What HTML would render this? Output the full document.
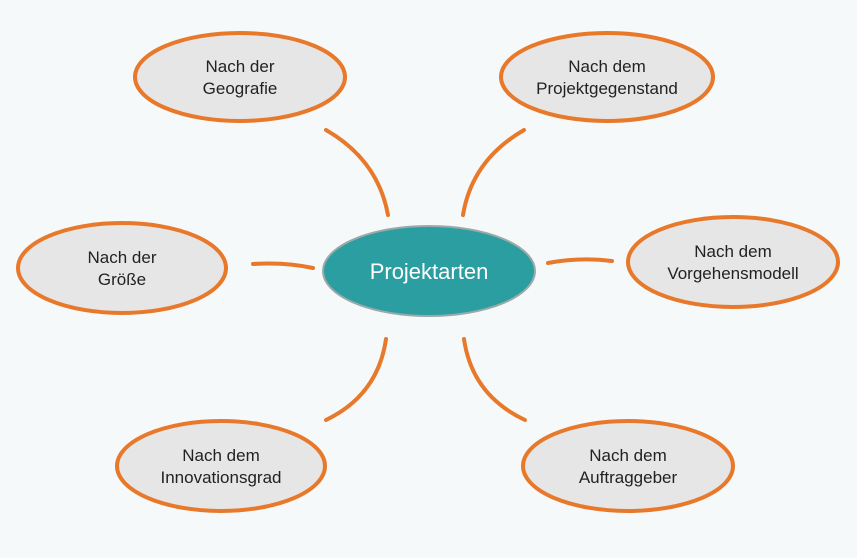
<!DOCTYPE html>
<html><head><meta charset="utf-8"><style>
html,body{margin:0;padding:0;background:#f5f9fa;}
svg{display:block}
text{font-family:"Liberation Sans",sans-serif;font-size:17px;fill:#222;text-anchor:middle}
</style></head><body>
<svg width="857" height="558" viewBox="0 0 857 558">
<rect width="857" height="558" fill="#f5f9fa"/>
<g fill="none" stroke="#e8782a" stroke-width="4" stroke-linecap="round">
<path d="M326 130 Q378 160 388 215"/>
<path d="M524 130 Q472 160 463 215"/>
<path d="M253 264 Q285 262 313 268"/>
<path d="M548 263 Q580 257 612 261"/>
<path d="M386 339 Q378 395 326 420"/>
<path d="M464 339 Q472 395 525 420"/>
</g>
<g fill="#e6e6e6" stroke="#e8782a" stroke-width="4">
<ellipse cx="240" cy="77" rx="105" ry="44"/>
<ellipse cx="607" cy="77" rx="106" ry="44"/>
<ellipse cx="122" cy="268" rx="104" ry="45"/>
<ellipse cx="733" cy="262" rx="105" ry="45"/>
<ellipse cx="221" cy="466" rx="104" ry="45"/>
<ellipse cx="628" cy="466" rx="105" ry="45"/>
</g>
<ellipse cx="429" cy="271" rx="106" ry="45" fill="#2a9ea0" stroke="#9aa9aa" stroke-width="2"/>
<text x="429" y="279" style="font-size:22px;fill:#fff">Projektarten</text>
<text x="240" y="72">Nach der</text><text x="240" y="94">Geografie</text>
<text x="607" y="72">Nach dem</text><text x="607" y="94">Projektgegenstand</text>
<text x="122" y="263">Nach der</text><text x="122" y="285">Größe</text>
<text x="733" y="257">Nach dem</text><text x="733" y="279">Vorgehensmodell</text>
<text x="221" y="461">Nach dem</text><text x="221" y="483">Innovationsgrad</text>
<text x="628" y="461">Nach dem</text><text x="628" y="483">Auftraggeber</text>
</svg>
</body></html>
